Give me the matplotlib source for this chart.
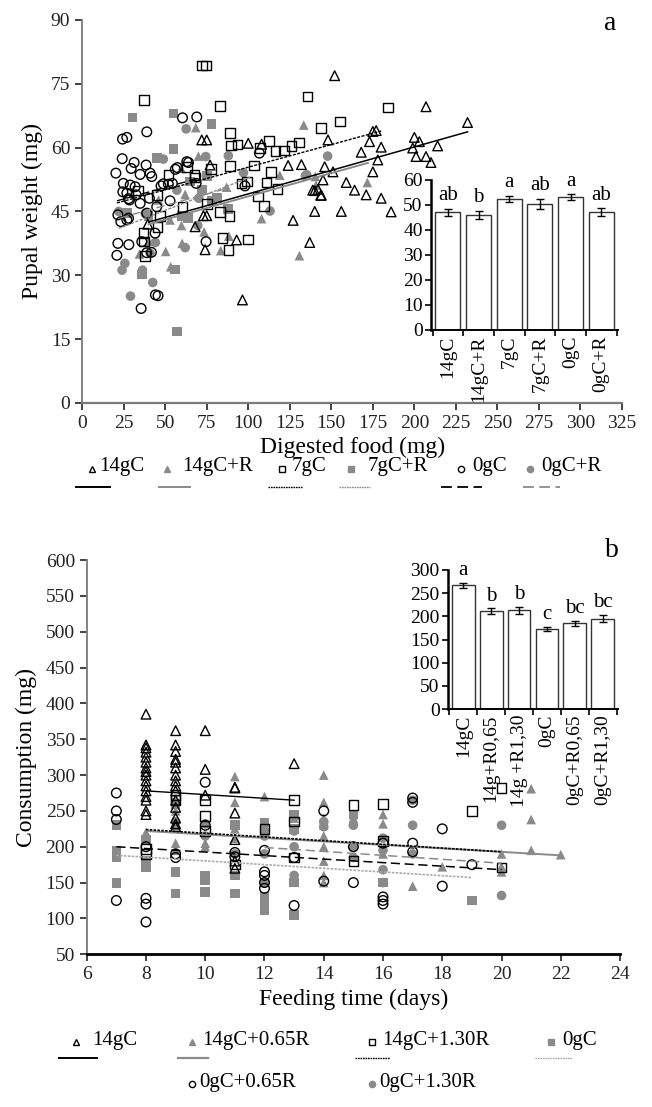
import matplotlib
matplotlib.use('Agg')
import matplotlib.pyplot as plt
from matplotlib.lines import Line2D
import numpy as np

plt.rcParams['font.family'] = ['Liberation Serif', 'DejaVu Serif']

GRAY = '#8a8a8a'
AXGRAY = '#7a7a7a'

# ---------------- panel a data (digested food mg, pupal weight mg) ----------------
a14_x = [39.5, 68, 72, 75, 73, 75, 74, 77, 93, 100, 108, 124, 132, 127, 140, 142, 140, 144, 137, 145,
         146, 148, 96.5, 152, 207, 232, 175, 177, 200, 203, 214, 199, 201, 207, 210, 173, 180, 168, 178,
         175, 151, 159, 164, 171, 180, 186, 156, 138.8, 143.6]
a14_y = [42, 41.4, 61.8, 61.8, 44, 44, 36, 55.9, 38.3, 61, 60.8, 55.8, 56, 42.9, 49.9, 50.2, 45, 48.8, 37.7, 52.4,
         55.5, 61.8, 24.2, 76.9, 69.6, 65.9, 63.8, 64, 62.4, 61.4, 60.4, 59.9, 57.9, 57.9, 56.5, 61.4, 60.1, 58.9, 57.1,
         54.3, 54.3, 51.8, 50, 48.9, 48.1, 44.9, 45, 50, 48.8]

a14R_x = [68.4, 133.4, 60.2, 50.3, 53.3, 34.5, 130.8, 83.4, 88.3, 108, 52.9, 59.8, 73.4, 59.6, 119, 140.4,
          87, 46, 171.7, 140.8, 70, 62, 40]
a14R_y = [64.7, 65.3, 37.5, 35.6, 32, 35, 34.6, 35.8, 39.2, 43.3, 43, 41.7, 40.2, 55.1, 53.5, 53.2,
          50.7, 47.7, 51.8, 51.2, 58, 49, 38]

a7_x = [37.3, 72, 74.6, 83, 135.6, 143.8, 155.4, 184.3, 89, 89.6, 93.5, 107, 112.3, 116.3, 121.5, 126.1,
        130.7, 103.3, 113.7, 111, 117.7, 89, 52, 95.9, 99.1, 106, 109.5, 83, 88.6, 84.6, 88, 100, 36.9,
        37.3, 37.9, 45.3, 46.9, 33.5, 44.9, 60.4, 67.6, 77.4, 75, 63, 68]
a7_y = [71.2, 79.3, 79.3, 69.8, 72, 64.6, 66.1, 69.4, 63.4, 60.5, 60.7, 59.9, 61.5, 59.2, 59.3, 60.4,
        61.2, 55.8, 54.2, 51.8, 50.3, 55.7, 53.6, 51.6, 52, 48.5, 46.3, 44.9, 43.9, 38.8, 35.9, 38.4, 39.9,
        37.9, 34.5, 41.4, 43.9, 49.9, 48.8, 46, 53.6, 54.9, 46.8, 55.5, 53]

a7R_x = [30.3, 55, 77.8, 55, 45.1, 57, 56, 36.1, 63.6, 75, 81, 87.8, 26.9, 60, 65, 72, 78, 40]
a7R_y = [67.1, 68, 65.5, 59.7, 57.5, 16.8, 31.4, 30.2, 43.4, 53.3, 48.1, 45.6, 44.6, 43.9, 52, 50, 47.5, 44]

a0_x = [24.3, 26.9, 38.9, 60.4, 69, 24.1, 31.3, 29.5, 38.5, 34.9, 41.9, 40.9, 20.3, 24.8, 28.9, 24.5,
        26.9, 28.5, 31.9, 32.5, 21.5, 23.3, 26.9, 27.9, 34.9, 38.9, 40.5, 44.9, 52.9, 48.9, 51.9, 54.3,
        47.5, 64, 68.6, 57.3, 21.5, 28.1, 20.9, 43.9, 44.1, 45.7, 35.5, 35.9, 38.9, 41.7, 74.6, 106.7,
        56.1, 63, 98, 28]
a0_y = [62, 62.4, 63.7, 67, 67.2, 57.4, 56.5, 55.1, 55.9, 53.7, 53.2, 54, 54, 51.6, 51.2, 49.6,
        49.3, 47.7, 50.8, 48.9, 44.2, 42.6, 43, 43.4, 46.9, 44.6, 48.1, 46.1, 47.5, 51.5, 51.4, 51.6,
        51, 56.5, 51.6, 55.3, 37.5, 37.2, 34.7, 39.9, 25.4, 25.2, 22.2, 37.9, 35.3, 35.4, 37.9, 58.7,
        54.9, 56.7, 51, 48]

a0R_x = [24, 25.7, 29.1, 36.3, 42.5, 40.9, 44.1, 62, 62.6, 48.9, 74.4, 88, 70.2, 69.6, 97.1, 113.1,
         134.4, 147.8, 135.2, 57, 22, 38]
a0R_y = [31.2, 32.8, 25.1, 31.2, 28.3, 35.2, 37.7, 36.5, 64.4, 57.3, 57.9, 58.1, 48.1, 41.7, 54.1, 45.1,
         53.4, 58, 53.6, 50, 45, 44.5]

# trend lines (x start, x end, y start, y end)
a_fit_x = {'14gC': (40, 232), '14gC+R': (40, 172), '7gC': (21, 180), '7gC+R': (22, 101),
           '0gC': (21, 70), '0gC+R': (23, 88)}
a_fit_y = {'14gC': (42.5, 63.7), '14gC+R': (42.0, 56.4), '7gC': (47.0, 63.9), '7gC+R': (41.0, 53.0),
           '0gC': (47.5, 52.8), '0gC+R': (43.5, 50.5)}

# inset a
ins_a_labels = ['14gC', '14gC+R', '7gC', '7gC+R', '0gC', '0gC+R']
ins_a_vals = [47, 46, 52.5, 50.5, 53, 47]
ins_a_err = [1.4, 1.7, 1.2, 2.0, 1.2, 1.6]
ins_a_lett = ['ab', 'b', 'a', 'ab', 'a', 'ab']

# ---------------- panel b data (feeding days, consumption mg) ----------------
b14_x = [8]*16 + [9]*15 + [10]*3 + [11]*6 + [13]
b14_y = [385, 342, 338, 332, 325, 318, 310, 305, 300, 292, 285, 278, 270, 265, 250, 245,
         362, 342, 333, 322, 318, 310, 300, 292, 285, 278, 265, 255, 240, 232, 228,
         362, 308, 272,
         283, 282, 247, 210, 180, 170,
         316]

b14r1_x = [8]*2 + [9]*4 + [10]*2 + [11]*4 + [12]*2 + [13]*2 + [14]*9 + [15]*2 + [16]*3 + [17] + [18] + [20]*3 + [21]*3 + [22]
b14r1_y = [220, 212,
           250, 230, 205, 195,
           205, 200,
           298, 262, 225, 212,
           270, 230,
           240, 225,
           300, 262, 240, 230, 215, 200, 180, 160, 150,
           245, 240,
           245, 232, 190,
           145, 172, 190, 172, 165, 281, 238, 195, 189]
b14r1_x = b14r1_x[:len(b14r1_y)]

b14r2_x = [8]*2 + [9]*2 + [10]*3 + [11] + [12] + [13]*3 + [15]*2 + [16]*2 + [19] + [20]*2
b14r2_y = [197, 190, 272, 265, 265, 243, 222, 175, 225, 265, 235, 185, 258, 180, 260, 208, 250, 282, 171]

b0_x = [7]*4 + [8]*3 + [9]*3 + [10]*3 + [11]*3 + [12]*6 + [13]*4 + [15] + [16] + [19]
b0_y = [230, 195, 185, 149, 209, 181, 172, 260, 165, 135, 160, 153, 137, 230, 160, 135,
        234, 220, 150, 130, 118, 111, 244, 225, 150, 105, 245, 150, 125]

b0r1_x = [7]*4 + [8]*4 + [9]*2 + [10]*2 + [11]*2 + [12]*5 + [13]*2 + [14]*2 + [15]*2 + [16]*4 + [17]*4 + [18]*2 + [19]
b0r1_y = [275, 250, 238, 125, 200, 128, 120, 95, 190, 185, 290, 230, 192, 186, 195, 165, 160, 150, 142,
          118, 185, 250, 152, 200, 150, 205, 130, 125, 120, 268, 262, 205, 193, 225, 145, 175]

b0r2_x = [9]*2 + [10]*2 + [11] + [12]*2 + [13]*3 + [14]*2 + [15]*3 + [16]*4 + [17]*3 + [20]*2
b0r2_y = [262, 235, 232, 215, 190, 215, 190, 222, 200, 160, 235, 228, 230, 200, 185,
          212, 195, 168, 150, 265, 230, 190, 230, 132]

b_fit_x = {'14gC': (8, 13), '14gC+0.65R': (8, 22), '14gC+1.30R': (8, 20), '0gC': (7, 19),
           '0gC+0.65R': (7, 20), '0gC+1.30R': (12, 20)}
b_fit_y = {'14gC': (278, 265), '14gC+0.65R': (222, 188), '14gC+1.30R': (224, 193), '0gC': (188, 157),
           '0gC+0.65R': (200, 168), '0gC+1.30R': (199, 177)}

# inset b
ins_b_labels = ['14gC', '14g+R0,65', '14g +R1,30', '0gC', '0gC+R0,65', '0gC+R1,30']
ins_b_vals = [267, 211, 213, 173, 185, 195]
ins_b_err = [6, 6, 7, 5, 6, 8]
ins_b_lett = ['a', 'b', 'b', 'c', 'bc', 'bc']

# ---------------- styles ----------------
open_kw = dict(facecolors='none', edgecolors='black', linewidths=1.0, s=48, zorder=3)
fill_kw = dict(color=GRAY, edgecolors='none', s=48, zorder=2)
SHORT = (0, (2.2, 1.0))
LONG = (0, (6, 3))

fig = plt.figure(figsize=(6.52, 11.07), dpi=100)

def style_axes(ax, bottom_color):
    for s in ['top', 'right']:
        ax.spines[s].set_visible(False)
    ax.spines['left'].set_color(AXGRAY)
    ax.spines['bottom'].set_color(bottom_color)
    ax.spines['left'].set_linewidth(1.3)
    ax.spines['bottom'].set_linewidth(1.6)
    ax.tick_params(direction='out', length=5, width=1.2, labelsize=14, colors='#222222')

# ---- panel a ----
ax1 = fig.add_axes([0.126, 0.636, 0.828, 0.346])
ax1.scatter(a14R_x, a14R_y, marker='^', **fill_kw)
ax1.scatter(a7R_x, a7R_y, marker='s', **fill_kw)
ax1.scatter(a0R_x, a0R_y, marker='o', **fill_kw)
ax1.scatter(a14_x, a14_y, marker='^', **open_kw)
ax1.scatter(a7_x, a7_y, marker='s', **open_kw)
ax1.scatter(a0_x, a0_y, marker='o', **open_kw)

a_line_style = {'14gC': ('black', '-', 1.1), '14gC+R': (GRAY, '-', 1.4), '7gC': ('black', SHORT, 1.0),
                '7gC+R': (GRAY, SHORT, 1.0), '0gC': ('black', LONG, 1.0), '0gC+R': (GRAY, LONG, 1.0)}
for k in a_fit_x:
    c, ls, lw = a_line_style[k]
    ax1.plot(a_fit_x[k], a_fit_y[k], color=c, linestyle=ls, linewidth=lw, zorder=4)

ax1.set_xlim(0, 325)
ax1.set_ylim(0, 90)
ax1.set_xticks(np.arange(0, 326, 25))
ax1.set_yticks(np.arange(0, 91, 15))
style_axes(ax1, AXGRAY)
ax1.set_xlabel('Digested food (mg)', fontsize=17, labelpad=4)
ax1.set_ylabel('Pupal weight (mg)', fontsize=17, labelpad=6)
fig.text(0.936, 0.979, 'a', fontsize=20, ha='center', va='center')

ins1 = fig.add_axes([0.661, 0.702, 0.287, 0.1355])
pos = np.arange(len(ins_a_vals))
ins1.bar(pos, ins_a_vals, width=0.82, color='white', edgecolor='#333333', linewidth=1.0,
         yerr=ins_a_err, capsize=3, error_kw=dict(ecolor='black', elinewidth=1.0, capthick=1.0))
for p, v, e, t in zip(pos, ins_a_vals, ins_a_err, ins_a_lett):
    ins1.text(p, v + e + 1.5, t, ha='center', va='bottom', fontsize=15)
ins1.set_xlim(-0.55, len(pos) - 0.45)
ins1.set_ylim(0, 60)
ins1.set_yticks(np.arange(0, 61, 10))
ins1.set_xticks(pos)
ins1.set_xticklabels(ins_a_labels, rotation=90)
ins1.set_xticks(np.arange(-0.5, len(pos)), minor=True)
ins1.tick_params(axis='x', which='major', length=0, labelsize=14, pad=4)
ins1.tick_params(axis='x', which='minor', length=4, width=1.2, direction='out')
ins1.tick_params(axis='y', labelsize=14, length=4, width=1.2, pad=2)
for s in ['top', 'right']:
    ins1.spines[s].set_visible(False)
ins1.spines['left'].set_linewidth(1.8)
ins1.spines['bottom'].set_linewidth(1.4)
ins1.patch.set_alpha(0)

# ---- panel b ----
ax2 = fig.add_axes([0.133, 0.138, 0.818, 0.356])
ax2.scatter(b14r1_x, b14r1_y, marker='^', **fill_kw)
ax2.scatter(b0_x, b0_y, marker='s', **fill_kw)
ax2.scatter(b0r2_x, b0r2_y, marker='o', **fill_kw)
ax2.scatter(b14_x, b14_y, marker='^', **open_kw)
ax2.scatter(b14r2_x, b14r2_y, marker='s', **open_kw)
ax2.scatter(b0r1_x, b0r1_y, marker='o', **open_kw)

b_line_style = {'14gC': ('black', '-', 1.0), '14gC+0.65R': (GRAY, '-', 1.4),
                '14gC+1.30R': ('black', (0, (1.5, 0.8)), 1.2), '0gC': ('#aaaaaa', (0, (1.5, 0.8)), 1.2),
                '0gC+0.65R': ('black', LONG, 1.1), '0gC+1.30R': (GRAY, LONG, 1.1)}
for k in b_fit_x:
    c, ls, lw = b_line_style[k]
    ax2.plot(b_fit_x[k], b_fit_y[k], color=c, linestyle=ls, linewidth=lw, zorder=4)

ax2.set_xlim(6, 24)
ax2.set_ylim(50, 600)
ax2.set_xticks(np.arange(6, 25, 2))
ax2.set_yticks(np.arange(50, 601, 50))
style_axes(ax2, 'black')
ax2.spines['bottom'].set_linewidth(2.0)
ax2.set_xlabel('Feeding time (days)', fontsize=17, labelpad=4)
ax2.set_ylabel('Consumption (mg)', fontsize=17, labelpad=6)
fig.text(0.939, 0.503, 'b', fontsize=20, ha='center', va='center')

ins2 = fig.add_axes([0.687, 0.3595, 0.261, 0.1256])
pos = np.arange(len(ins_b_vals))
ins2.bar(pos, ins_b_vals, width=0.82, color='white', edgecolor='#333333', linewidth=1.0,
         yerr=ins_b_err, capsize=3, error_kw=dict(ecolor='black', elinewidth=1.0, capthick=1.0))
for p, v, e, t in zip(pos, ins_b_vals, ins_b_err, ins_b_lett):
    ins2.text(p, v + e + 6, t, ha='center', va='bottom', fontsize=15)
ins2.set_xlim(-0.55, len(pos) - 0.45)
ins2.set_ylim(0, 300)
ins2.set_yticks(np.arange(0, 301, 50))
ins2.set_xticks(pos)
ins2.set_xticklabels(ins_b_labels, rotation=90)
ins2.set_xticks(np.arange(-0.5, len(pos)), minor=True)
ins2.tick_params(axis='x', which='major', length=0, labelsize=14, pad=4)
ins2.tick_params(axis='x', which='minor', length=4, width=1.2, direction='out')
ins2.tick_params(axis='y', labelsize=14, length=4, width=1.2, pad=2)
for s in ['top', 'right']:
    ins2.spines[s].set_visible(False)
ins2.spines['left'].set_linewidth(1.8)
ins2.spines['bottom'].set_linewidth(1.4)
ins2.patch.set_alpha(0)

# ---- legends (drawn in figure pixels) ----
W, H = 652.0, 1107.0

def leg(mx, tx, ty, label, marker, filled, line=None):
    mfc = GRAY if filled else 'none'
    mec = GRAY if filled else 'black'
    fig.add_artist(Line2D([mx / W], [1 - (ty + 2) / H], marker=marker, markersize=4.5,
                          markerfacecolor=mfc, markeredgecolor=mec, markeredgewidth=1.0,
                          linestyle='none', transform=fig.transFigure))
    fig.text(tx / W, 1 - ty / H, label, fontsize=15, va='center', ha='left')
    if line is not None:
        x0, x1, ly, c, ls, lw = line
        fig.add_artist(Line2D([x0 / W, x1 / W], [1 - ly / H] * 2, color=c, linestyle=ls,
                              linewidth=lw, transform=fig.transFigure))

ty, ly = 467, 487
leg(92, 99, ty, '14gC', '^', False, (76, 110, ly, 'black', '-', 1.4))
leg(167, 182, ty, '14gC+R', '^', True, (159, 190, ly, GRAY, '-', 1.4))
leg(282, 292, ty, '7gC', 's', False, (268, 302, ly, 'black', (0, (1.2, 0.6)), 1.0))
leg(351, 368, ty, '7gC+R', 's', True, (339, 370, ly, GRAY, (0, (1.2, 0.6)), 1.0))
leg(461, 472, ty, '0gC', 'o', False, (441, 482, ly, 'black', LONG, 1.3))
leg(530, 541, ty, '0gC+R', 'o', True, (523, 560, ly, GRAY, LONG, 1.3))

ty, ly = 1040, 1058
leg(76, 92, ty, '14gC', '^', False, (59, 97, ly, 'black', '-', 1.4))
leg(192, 202, ty, '14gC+0.65R', '^', True, (178, 208, ly, GRAY, '-', 1.6))
leg(372, 382, ty, '14gC+1.30R', 's', False, (355, 390, ly, 'black', (0, (1.2, 0.6)), 1.0))
leg(551, 562, ty, '0gC', 's', True, (535, 572, ly, '#aaaaaa', (0, (1.2, 0.6)), 1.0))
leg(192, 199, 1082, '0gC+0.65R', 'o', False)
leg(372, 379, 1082, '0gC+1.30R', 'o', True)

fig.savefig('out.png', dpi=100)
